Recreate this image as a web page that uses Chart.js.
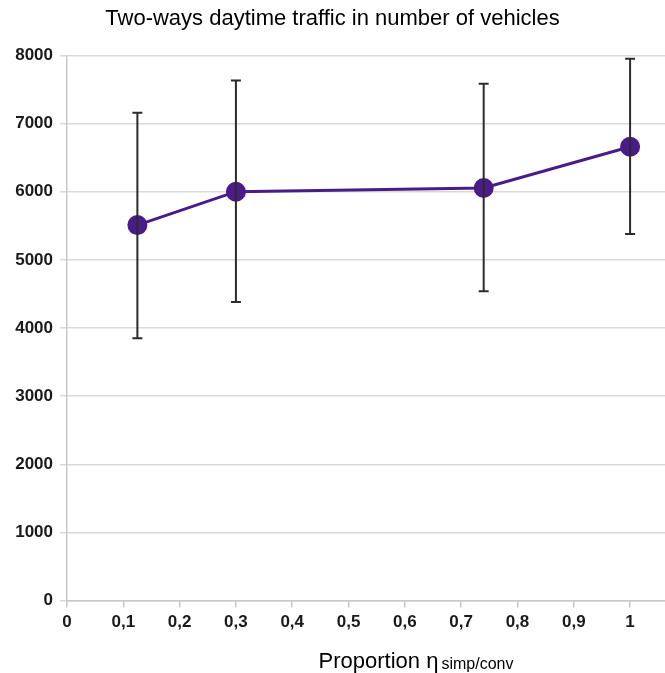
<!DOCTYPE html>
<html>
<head>
<meta charset="utf-8">
<script src="https://cdn.jsdelivr.net/npm/chart.js@4"></script>
<style>
  html, body { margin: 0; padding: 0; background: #fff; }
  #wrap { width: 665px; height: 673px; }
</style>
</head>
<body>
<div id="wrap"><canvas id="myChart"></canvas></div>
<script>
// proportion eta simp/conv
const proportions = [0.125, 0.3, 0.74, 1.0];
const meanTraffic = [5510, 6000, 6055, 6660];
const lowTraffic = [3850, 4380, 4540, 5380];
const highTraffic = [7160, 7630, 7585, 7950];
const xTicks = [0, 0.1, 0.2, 0.3, 0.4, 0.5, 0.6, 0.7, 0.8, 0.9, 1];

const points = proportions.map((x, i) => ({ x: x, y: meanTraffic[i] }));

const FONT = '"Liberation Sans", Arial, sans-serif';

// error bars drawn through the chart scales
const errorBars = {
    id: 'errorBars',
    afterDatasetsDraw(chart) {
        const c = chart.ctx;
        const xs = chart.scales.x, ys = chart.scales.y;
        c.save();
        c.strokeStyle = '#2b2b2b';
        c.lineWidth = 2;
        proportions.forEach((p, i) => {
            const px = xs.getPixelForValue(p);
            const top = ys.getPixelForValue(highTraffic[i]);
            const bot = ys.getPixelForValue(lowTraffic[i]);
            c.beginPath();
            c.moveTo(px, top); c.lineTo(px, bot);
            c.moveTo(px - 5, top); c.lineTo(px + 5, top);
            c.moveTo(px - 5, bot); c.lineTo(px + 5, bot);
            c.stroke();
        });
        c.restore();
    }
};

// x axis title with subscript
const axisTitle = {
    id: 'axisTitle',
    afterDraw(chart) {
        const c = chart.ctx;
        const main = 'Proportion \u03b7';
        const sub = 'simp/conv';
        c.save();
        c.fillStyle = '#000';
        c.textBaseline = 'alphabetic';
        c.font = '22px ' + FONT;
        const w1 = c.measureText(main).width;
        c.font = '16px ' + FONT;
        const w2 = c.measureText(sub).width;
        const gap = 3;
        const x = 416 - (w1 + gap + w2) / 2;
        const y = 668;
        c.font = '22px ' + FONT;
        c.fillText(main, x, y);
        c.font = '16px ' + FONT;
        c.fillText(sub, x + w1 + gap, y + 1);
        c.restore();
    }
};

const ctx = document.getElementById('myChart').getContext('2d');

const myChart = new Chart(ctx, {
    type: 'line',
    data: {
        datasets: [{
            label: 'Traffic',
            data: points,
            borderColor: '#4a1c88',
            backgroundColor: '#4a1c88',
            borderWidth: 3,
            pointRadius: 8.5,
            pointHoverRadius: 8.5,
            fill: false,
            tension: 0
        }]
    },
    options: {
        responsive: true,
        maintainAspectRatio: false,
        animation: false,
        layout: {
            autoPadding: false,
            padding: { top: 0, right: 0, left: 0, bottom: 35 }
        },
        plugins: {
            legend: { display: false },
            tooltip: { enabled: false },
            title: {
                display: true,
                text: 'Two-ways daytime traffic in number of vehicles',
                color: '#000',
                font: { family: FONT, size: 22, weight: 'normal' },
                padding: { top: 6, bottom: 23 }
            }
        },
        scales: {
            x: {
                type: 'linear',
                min: 0,
                max: 1.062,
                afterBuildTicks(scale) {
                    scale.ticks = xTicks.map(v => ({ value: v }));
                },
                ticks: {
                    color: '#1a1a1a',
                    padding: 5,
                    maxRotation: 0,
                    font: { family: FONT, size: 17, weight: 'bold' },
                    callback: v => Number(v.toFixed(2)).toString().replace('.', ',')
                },
                grid: {
                    drawOnChartArea: false,
                    drawTicks: true,
                    tickLength: 7,
                    color: '#c8c8c8',
                    lineWidth: 1.5
                },
                border: { color: '#c8c8c8', width: 1.5 }
            },
            y: {
                min: 0,
                max: 8000,
                afterFit(scale) {
                    scale.width = 67;
                },
                ticks: {
                    stepSize: 1000,
                    color: '#1a1a1a',
                    padding: 7,
                    font: { family: FONT, size: 17, weight: 'bold' },
                    callback: v => String(v)
                },
                grid: {
                    color: '#d9d9d9',
                    lineWidth: 1.5,
                    tickLength: 7
                },
                border: { color: '#c8c8c8', width: 1.5 }
            }
        }
    },
    plugins: [errorBars, axisTitle]
});
</script>
</body>
</html>
